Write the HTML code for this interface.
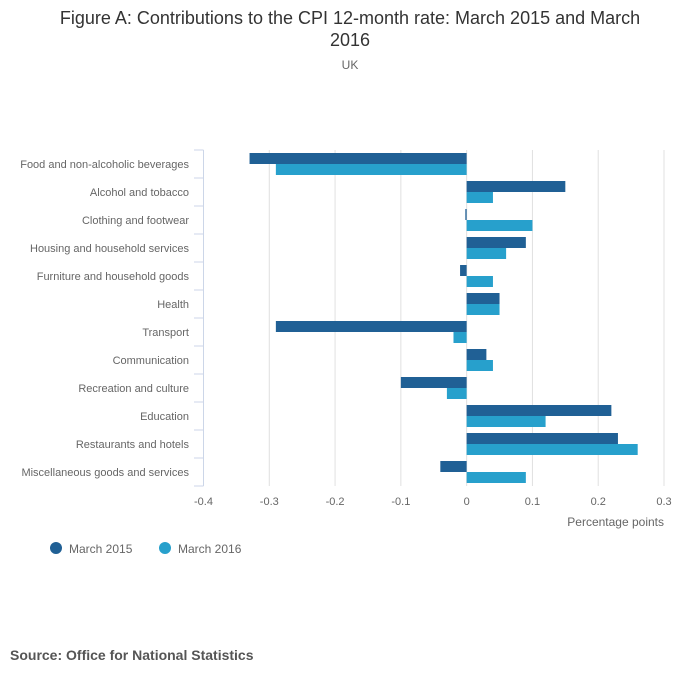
<!DOCTYPE html>
<html><head><meta charset="utf-8"><style>
body{margin:0;background:#fff;font-family:"Liberation Sans",sans-serif;}
svg text{font-family:"Liberation Sans",sans-serif;}
</style></head><body>
<svg id="c" width="700" height="682" xmlns="http://www.w3.org/2000/svg">
<text x="350" y="24" text-anchor="middle" font-size="18" fill="#333">Figure A: Contributions to the CPI 12-month rate: March 2015 and March</text>
<text x="350" y="46" text-anchor="middle" font-size="18" fill="#333">2016</text>
<text x="350" y="69" text-anchor="middle" font-size="12" fill="#666">UK</text>
<g id="grid"></g><g id="bars"></g><g id="axes"></g>
<text x="664" y="526" text-anchor="end" font-size="12" fill="#666">Percentage points</text>
<g>
<circle cx="56" cy="548" r="6" fill="#206095"/>
<text x="69" y="553" font-size="12" fill="#666">March 2015</text>
<circle cx="165" cy="548" r="6" fill="#27a0cc"/>
<text x="178" y="553" font-size="12" fill="#666">March 2016</text>
</g>
<text x="10" y="660" font-size="14" font-weight="bold" fill="#555">Source: Office for National Statistics</text>
</svg>
<script>
const categories=["Food and non-alcoholic beverages","Alcohol and tobacco","Clothing and footwear","Housing and household services","Furniture and household goods","Health","Transport","Communication","Recreation and culture","Education","Restaurants and hotels","Miscellaneous goods and services"];
const march2015=[-0.33,0.15,-0.002,0.09,-0.01,0.05,-0.29,0.03,-0.1,0.22,0.23,-0.04];
const march2016=[-0.29,0.04,0.1,0.06,0.04,0.05,-0.02,0.04,-0.03,0.12,0.26,0.09];
const ticks=[-0.4,-0.3,-0.2,-0.1,0,0.1,0.2,0.3];
const tickLabels=["-0.4","-0.3","-0.2","-0.1","0","0.1","0.2","0.3"];
const NS="http://www.w3.org/2000/svg";
const x0=203.5,x1=664,vmin=-0.4,vmax=0.3,plotTop=150,band=28;
const X=v=>x0+(v-vmin)/(vmax-vmin)*(x1-x0);
function mk(g,t,a){const e=document.createElementNS(NS,t);for(const k in a)e.setAttribute(k,a[k]);document.getElementById(g).appendChild(e);return e;}
const plotBottom=plotTop+band*categories.length;
ticks.forEach((t,i)=>{
 if(i>0){const l=mk('grid','line',{x1:X(t),x2:X(t),y1:plotTop,y2:plotBottom,stroke:'#e0e0e0'});
 
 }
 const tx=mk('axes','text',{x:X(t),y:505,'text-anchor':'middle','font-size':11,fill:'#666'});
 tx.textContent=tickLabels[i];
 
 
});
const ax=mk('axes','line',{x1:x0,x2:x0,y1:plotTop,y2:plotBottom,stroke:'#ccd6e8'});


for(let i=0;i<=categories.length;i++){
 const tk=mk('axes','line',{x1:194,x2:x0,y1:plotTop+i*band,y2:plotTop+i*band,stroke:'#ccd6e8'});
 
 
}
categories.forEach((c,i)=>{
 const yc=plotTop+band*i+band/2;
 const tx=mk('axes','text',{x:189,y:yc+4,'text-anchor':'end','font-size':11,fill:'#666'});
 tx.textContent=c;
 
 
 [[march2015[i],'#206095',yc-11],[march2016[i],'#27a0cc',yc]].forEach(([v,col,y],s)=>{
  const a=Math.min(X(0),X(v)),w=Math.max(Math.abs(X(v)-X(0)),0.8);
  const r=mk('bars','rect',{x:a,y:y,width:w,height:11,fill:col});
  
  
 });
});
</script>
</body></html>
